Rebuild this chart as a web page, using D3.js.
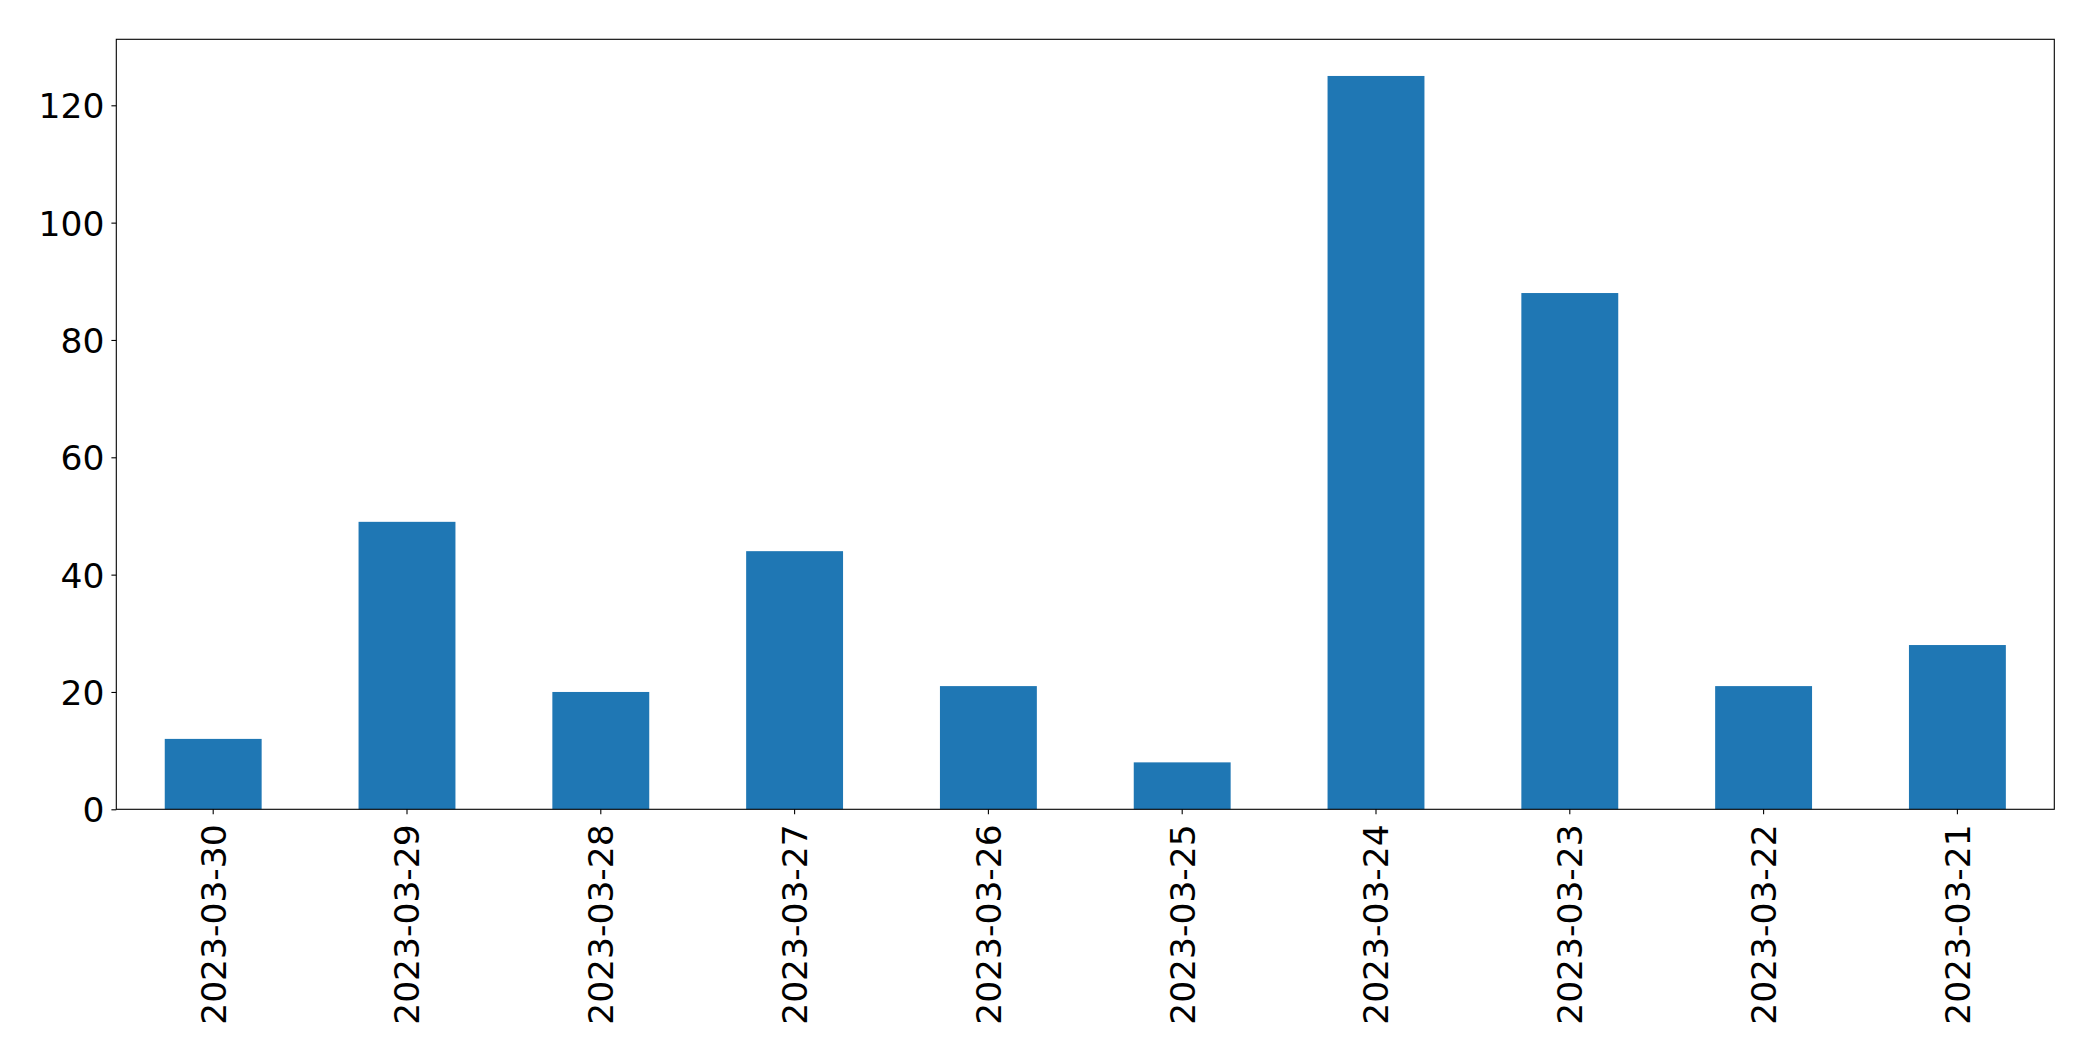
<!DOCTYPE html>
<html>
<head>
<meta charset="utf-8">
<script src="https://cdn.jsdelivr.net/npm/d3@7"></script>
<style>
  html, body { margin: 0; padding: 0; background: #fff; }
  svg { display: block; }
</style>
</head>
<body>
<script>
const categories = ["2023-03-30","2023-03-29","2023-03-28","2023-03-27","2023-03-26","2023-03-25","2023-03-24","2023-03-23","2023-03-22","2023-03-21"];
const values = [12, 49, 20, 44, 21, 8, 125, 88, 21, 28];
const yTicks = [0, 20, 40, 60, 80, 100, 120];

const W = 2093, H = 1061;
const margin = { left: 116.3, right: W - 2054.3, top: 39.3, bottom: H - 809.3 };
const iw = W - margin.left - margin.right;
const ih = H - margin.top - margin.bottom;
const fontSize = 34.5;

const svg = d3.select("body").append("svg").attr("width", W).attr("height", H);
const g = svg.append("g").attr("transform", `translate(${margin.left},${margin.top})`);

const x = d3.scaleBand().domain(categories).range([0, iw]).paddingInner(0.5).paddingOuter(0.25);
const y = d3.scaleLinear().domain([0, d3.max(values) * 1.05]).range([ih, 0]);

g.selectAll("rect.bar").data(values).enter().append("rect")
  .attr("class", "bar")
  .attr("x", (d, i) => x(categories[i]))
  .attr("y", d => y(d))
  .attr("width", x.bandwidth())
  .attr("height", d => ih - y(d))
  .attr("fill", "#1f77b4");

const yAxis = g.append("g")
  .call(d3.axisLeft(y).tickValues(yTicks).tickSize(4.9).tickPadding(7).tickFormat(d3.format("d")));
yAxis.select(".domain").remove();
yAxis.selectAll("line").attr("stroke", "#000").attr("stroke-width", 1.1);
yAxis.selectAll("text").attr("font-family", "DejaVu Sans").attr("font-size", fontSize).attr("fill", "#000").attr("dy", "0.36em");

const xAxis = g.append("g").attr("transform", `translate(0,${ih})`)
  .call(d3.axisBottom(x).tickSize(4.9).tickPadding(0));
xAxis.select(".domain").remove();
xAxis.selectAll("line").attr("stroke", "#000").attr("stroke-width", 1.1);
xAxis.selectAll("text")
  .attr("font-family", "DejaVu Sans").attr("font-size", fontSize).attr("fill", "#000")
  .attr("text-anchor", "end")
  .attr("transform", "translate(0,15) rotate(-90)")
  .attr("x", 0).attr("y", 0).attr("dy", "0.36em");

g.append("rect").attr("x", 0).attr("y", 0).attr("width", iw).attr("height", ih)
  .attr("fill", "none").attr("stroke", "#000").attr("stroke-width", 1.1);
</script>
</body>
</html>
